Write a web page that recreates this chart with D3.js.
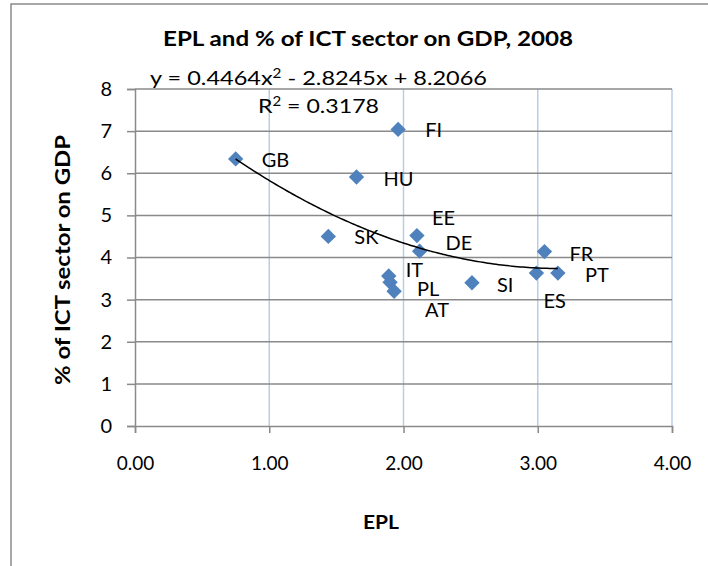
<!DOCTYPE html>
<html>
<head>
<meta charset="utf-8">
<script src="https://cdn.jsdelivr.net/npm/d3@7"></script>
<style>
  body { margin: 0; background: #fff; }
  text { font-family: Lato, "Open Sans", sans-serif; fill: #000; }
</style>
</head>
<body>
<svg width="708" height="566"></svg>
<script>
// data
let countries = ['GB', 'FI', 'HU', 'SK', 'EE', 'DE', 'IT', 'PL', 'AT', 'SI', 'FR', 'ES', 'PT']
let epl       = [0.75, 1.96, 1.65, 1.44, 2.10, 2.12, 1.89, 1.90, 1.93, 2.51, 3.05, 2.99, 3.15]
let ictShare  = [6.34, 7.04, 5.91, 4.50, 4.52, 4.15, 3.56, 3.41, 3.20, 3.40, 4.14, 3.63, 3.63]
let xTicks = [0, 1, 2, 3, 4]
let yTicks = [0, 1, 2, 3, 4, 5, 6, 7, 8]
let trendCoef = [0.4464, -2.8245, 8.2066]   // a, b, c of the poly trendline

// label nudges, px from the marker
let labelOffset = {
   GB: [26, 8], FI: [27, 8], HU: [27, 9], SK: [26, 8], EE: [15, -11],
   DE: [26, -1], IT: [17, 1], PL: [27, 14], AT: [31, 26], SI: [25, 9],
   FR: [25, 9], ES: [7, 35], PT: [27, 9]
}

let svg = d3.select('svg')
let plotL = 135, plotR = 672, plotT = 89, plotB = 426

let xScale = d3.scaleLinear().domain([0, 4]).range([plotL, plotR])
let yScale = d3.scaleLinear().domain([0, 8]).range([plotB, plotT])

// outer chart border
svg.append('rect')
   .attr('x', 11).attr('y', 4)
   .attr('width', 740).attr('height', 620)
   .attr('fill', 'none')
   .attr('stroke', '#8a8a8a')
   .attr('stroke-width', 1.5)

// gridlines
svg.append('g').selectAll('line')
   .data(xTicks.slice(1))
   .enter().append('line')
   .attr('x1', d => xScale(d)).attr('x2', d => xScale(d))
   .attr('y1', plotT).attr('y2', plotB)
   .attr('stroke', '#b9cde5').attr('stroke-width', 1.5)

svg.append('g').selectAll('line')
   .data(yTicks.slice(1))
   .enter().append('line')
   .attr('x1', plotL).attr('x2', plotR)
   .attr('y1', d => yScale(d)).attr('y2', d => yScale(d))
   .attr('stroke', '#8a8a8a').attr('stroke-width', 1.5)

// axes
let xAxis = d3.axisBottom(xScale).tickValues(xTicks).tickFormat(d3.format('.2f')).tickSize(7).tickPadding(24)
let yAxis = d3.axisLeft(yScale).tickValues(yTicks).tickFormat(d3.format('d')).tickSize(8).tickPadding(15)

let gx = svg.append('g')
   .attr('transform', 'translate(0,' + plotB + ')')
   .call(xAxis)
let gy = svg.append('g')
   .attr('transform', 'translate(' + plotL + ',0)')
   .call(yAxis)

;[gx, gy].forEach(g => {
   g.select('.domain').attr('stroke', '#8a8a8a').attr('stroke-width', 1.5)
   g.selectAll('.tick line').attr('stroke', '#8a8a8a').attr('stroke-width', 1.5)
   g.selectAll('.tick text').style('font-size', '19px').attr('fill', '#000')
})
gy.selectAll('.tick text').style('font-size', '20px')

// trendline from min to max x
let xs = d3.range(d3.min(epl), d3.max(epl) + 0.001, 0.02)
let trendLine = d3.line()
   .x(d => xScale(d))
   .y(d => yScale(trendCoef[0] * d * d + trendCoef[1] * d + trendCoef[2]))
   .curve(d3.curveBasis)

// markers
let points = countries.map((c, i) => ({ name: c, x: epl[i], y: ictShare[i] }))

svg.append('g').selectAll('path')
   .data(points)
   .enter().append('path')
   .attr('d', d3.symbol(d3.symbolSquare, 118))
   .attr('transform', d => 'translate(' + xScale(d.x) + ',' + yScale(d.y) + ') rotate(45)')
   .attr('fill', '#4f81bd')

svg.append('path')
   .datum(xs)
   .attr('d', trendLine)
   .attr('fill', 'none')
   .attr('stroke', '#000')
   .attr('stroke-width', 1.5)

// data labels
svg.append('g').selectAll('text')
   .data(points)
   .enter().append('text')
   .attr('x', d => xScale(d.x) + labelOffset[d.name][0])
   .attr('y', d => yScale(d.y) + labelOffset[d.name][1])
   .style('font-size', '20px')
   .text(d => d.name)

// title and trend equation
svg.append('text')
   .attr('x', 163).attr('y', 46)
   .attr('textLength', 410).attr('lengthAdjust', 'spacingAndGlyphs')
   .style('font-size', '20px').style('font-weight', 'bold')
   .text('EPL and % of ICT sector on GDP, 2008')

let eq = svg.append('text')
   .attr('x', 150).attr('y', 85)
   .attr('textLength', 337).attr('lengthAdjust', 'spacingAndGlyphs')
   .style('font-size', '20px')
eq.append('tspan').text('y = 0.4464x')
eq.append('tspan').attr('dy', -7).style('font-size', '13px').text('2')
eq.append('tspan').attr('dy', 7).text(' - 2.8245x + 8.2066')

let r2 = svg.append('text')
   .attr('x', 258).attr('y', 113)
   .attr('textLength', 121).attr('lengthAdjust', 'spacingAndGlyphs')
   .style('font-size', '20px')
r2.append('tspan').text('R')
r2.append('tspan').attr('dy', -7).style('font-size', '13px').text('2')
r2.append('tspan').attr('dy', 7).text(' = 0.3178')

// axis titles
svg.append('text')
   .attr('x', 363).attr('y', 529)
   .attr('textLength', 36).attr('lengthAdjust', 'spacingAndGlyphs')
   .style('font-size', '19px').style('font-weight', 'bold')
   .text('EPL')

svg.append('text')
   .attr('transform', 'translate(70,385) rotate(-90)')
   .attr('textLength', 250).attr('lengthAdjust', 'spacingAndGlyphs')
   .style('font-size', '20px').style('font-weight', 'bold')
   .text('% of ICT sector on GDP')
</script>
</body>
</html>
